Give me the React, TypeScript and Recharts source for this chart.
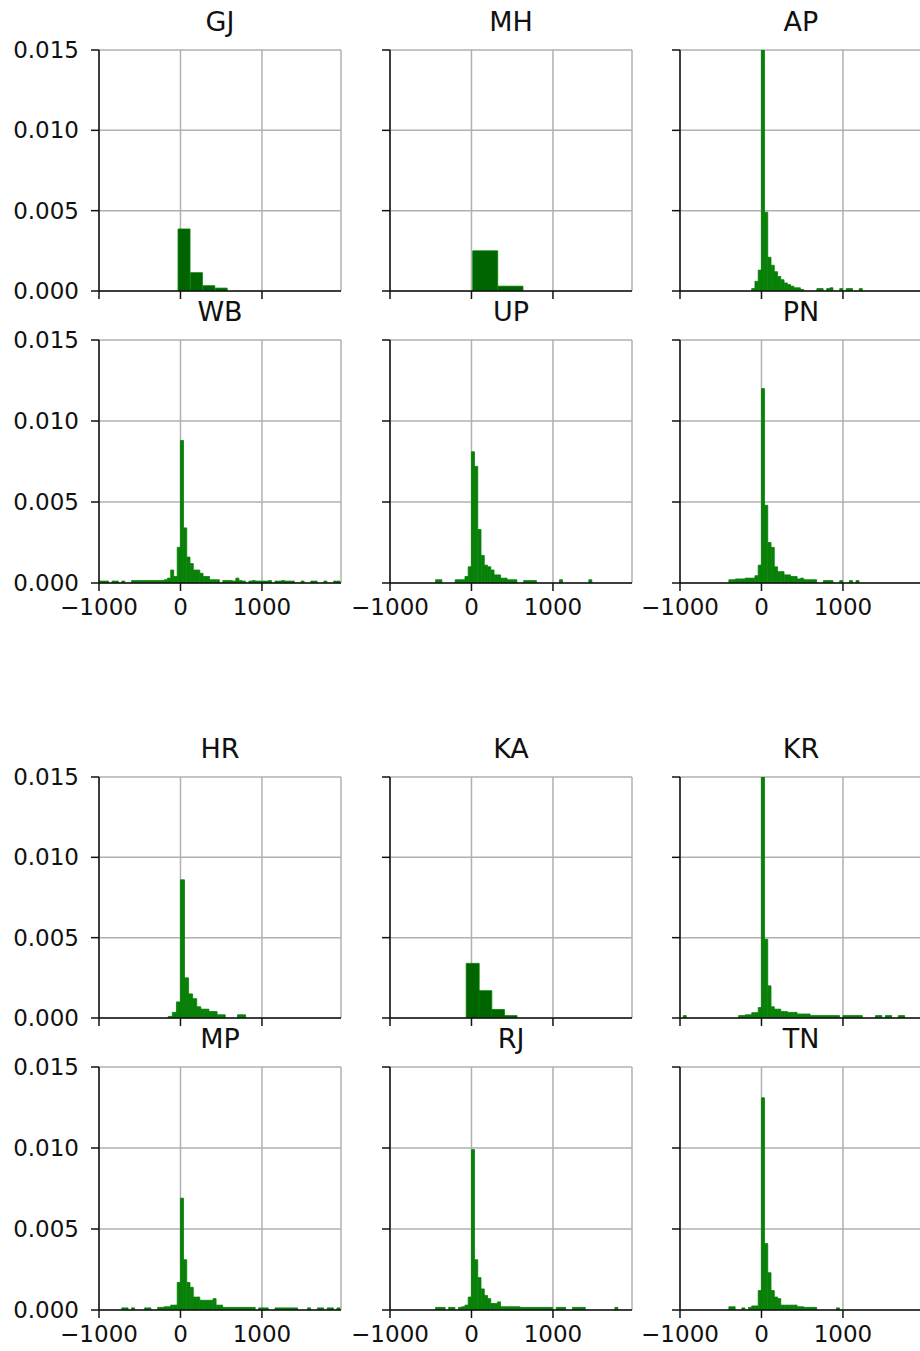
import React from 'react'
import { BarChart, Bar, XAxis, YAxis, CartesianGrid } from 'recharts'

const X_TICKS = [-1000, 0, 1000]
const Y_TICKS = [0, 0.005, 0.01, 0.015]
const X_DOMAIN = [-1000, 1970]
const Y_DOMAIN = [0, 0.015]

// GJ (wide bins)
const gjStart = -30
const gjWidth = 152
const gjDensity = [0.00386, 0.00114, 0.00033, 0.00018]

// MH (wide bins)
const mhStart = 15
const mhWidth = 310
const mhDensity = [0.0025, 0.0003]

// AP
const apStart = -120
const apWidth = 40
const apDensity = [0.00015, 0.0006, 0.0013, 0.02, 0.0049, 0.0021, 0.0016, 0.0012, 0.0009, 0.0007, 0.0005, 0.0004, 0.0003, 0.0002, 0.0002, 0.0001]
const apTailX = [680, 720, 800, 840, 960, 1040, 1080, 1200]
const apTailY = [0.00015, 0.00015, 0.00015, 0.0002, 0.00015, 0.00015, 0.00015, 0.00015]

// WB
const wbStart = -240
const wbWidth = 40
const wbDensity = [0.00015, 0.0002, 0.0003, 0.0008, 0.0004, 0.0022, 0.0088, 0.0034, 0.0016, 0.0012, 0.0008, 0.0008, 0.0006, 0.0004, 0.0004, 0.0002, 0.0002, 0.0002]
const wbTailX = [-1000, -960, -920, -840, -800, -720, -600, -560, -520, -480, -440, -400, -360, -320, -280, 520, 560, 600, 640, 680, 720, 760, 840, 880, 920, 960, 1000, 1040, 1080, 1160, 1200, 1240, 1280, 1320, 1360, 1480, 1600, 1640, 1760, 1880, 1920]
const wbTailY = [0.00012, 0.00012, 0.00012, 0.00012, 0.00012, 0.00012, 0.00015, 0.00015, 0.00015, 0.00015, 0.00015, 0.00015, 0.00015, 0.00015, 0.00015, 0.00015, 0.00015, 0.00015, 0.00012, 0.0003, 0.00015, 0.00012, 0.00012, 0.00015, 0.00012, 0.00012, 0.00012, 0.00012, 0.00015, 0.00012, 0.00012, 0.00015, 0.00012, 0.00012, 0.00012, 0.00012, 0.00012, 0.00012, 0.00012, 0.00012, 0.00012]

// UP
const upStart = -200
const upWidth = 40
const upDensity = [0.0002, 0.0002, 0.0002, 0.0004, 0.001, 0.0081, 0.0072, 0.0033, 0.0017, 0.0011, 0.001, 0.0008, 0.0005, 0.0005, 0.0003, 0.0003, 0.0002, 0.0002, 0.0002]
const upTailX = [-440, -400, 640, 680, 720, 760, 1080, 1440]
const upTailY = [0.0002, 0.0002, 0.00015, 0.00015, 0.00015, 0.00015, 0.0002, 0.0002]

// PN
const pnStart = -320
const pnWidth = 40
const pnDensity = [0.00025, 0.00025, 0.00025, 0.0003, 0.0003, 0.0003, 0.00045, 0.0011, 0.012, 0.0048, 0.0025, 0.0022, 0.001, 0.0007, 0.0007, 0.0005, 0.0005, 0.0004, 0.0004, 0.00025, 0.0003, 0.0002, 0.0002, 0.0002, 0.0002]
const pnTailX = [-400, -360, 760, 800, 840, 960, 1080, 1160]
const pnTailY = [0.0002, 0.0002, 0.00015, 0.00015, 0.00015, 0.00015, 0.00015, 0.00015]

// HR
const hrStart = -150
const hrWidth = 50
const hrDensity = [0.0001, 0.00035, 0.001, 0.0086, 0.0025, 0.0015, 0.0012, 0.0007, 0.00055, 0.00055, 0.0004, 0.0004, 0.0002, 0.0002]
const hrTailX = [700, 750]
const hrTailY = [0.0002, 0.0002]

// KA (wide bins)
const kaStart = -65
const kaWidth = 155
const kaDensity = [0.0034, 0.0017, 0.00053, 0.00015]

// KR
const krStart = -200
const krWidth = 40
const krDensity = [0.0002, 0.0002, 0.00033, 0.00033, 0.00065, 0.02, 0.0049, 0.002, 0.0007, 0.00055, 0.00055, 0.0004, 0.0004, 0.00035, 0.00035, 0.00035, 0.00025, 0.00025, 0.00025, 0.00025, 0.00015, 0.00015, 0.00015, 0.00015, 0.00015, 0.00015, 0.00015, 0.00015, 0.00015]
const krTailX = [-960, -280, -240, 1000, 1040, 1080, 1120, 1160, 1200, 1400, 1440, 1520, 1560, 1680, 1720]
const krTailY = [0.00015, 0.00015, 0.00015, 0.00015, 0.00015, 0.00015, 0.00015, 0.00015, 0.00015, 0.00015, 0.00015, 0.00015, 0.00015, 0.00015, 0.00015]

// MP
const mpStart = -280
const mpWidth = 40
const mpDensity = [0.00016, 0.00016, 0.0002, 0.0002, 0.0003, 0.0003, 0.0017, 0.0069, 0.0031, 0.0017, 0.0014, 0.0008, 0.0008, 0.0006, 0.0006, 0.0006, 0.0006, 0.0007, 0.0003, 0.0003, 0.00016, 0.00016, 0.00016, 0.00016, 0.00016, 0.00016, 0.00016, 0.00016, 0.00016, 0.00016]
const mpTailX = [-720, -680, -600, -440, -400, 960, 1000, 1040, 1160, 1200, 1240, 1280, 1320, 1360, 1400, 1560, 1680, 1720, 1800, 1840, 1920]
const mpTailY = [0.00013, 0.00013, 0.00013, 0.00013, 0.00013, 0.00013, 0.00013, 0.00013, 0.00013, 0.00013, 0.00013, 0.00013, 0.00013, 0.00013, 0.00013, 0.00013, 0.00013, 0.00013, 0.00013, 0.00013, 0.00013]

// RJ
const rjStart = -160
const rjWidth = 40
const rjDensity = [0.00016, 0.0002, 0.0003, 0.0008, 0.0099, 0.0031, 0.002, 0.0013, 0.0009, 0.0007, 0.0004, 0.0004, 0.0005, 0.0002, 0.0002, 0.0002, 0.0002, 0.0002, 0.0002, 0.00016, 0.00016, 0.00016, 0.00016, 0.00016, 0.00016, 0.00016, 0.00016, 0.00016, 0.00016]
const rjTailX = [-440, -400, -360, -280, -240, 1040, 1080, 1120, 1240, 1280, 1320, 1360, 1760]
const rjTailY = [0.00016, 0.00016, 0.00016, 0.00016, 0.00016, 0.00016, 0.00016, 0.00016, 0.00016, 0.00016, 0.00016, 0.00016, 0.00016]

// TN
const tnStart = -160
const tnWidth = 40
const tnDensity = [0.00016, 0.00025, 0.00025, 0.0012, 0.0131, 0.0041, 0.0023, 0.0012, 0.0008, 0.0007, 0.0003, 0.0003, 0.0003, 0.0003, 0.0003, 0.0002, 0.0002, 0.00016, 0.00016, 0.00016, 0.00016]
const tnTailX = [-400, -360, -240, 920]
const tnTailY = [0.0002, 0.0002, 0.00013, 0.00013]

type BinRow = { x: number; y: number }

function buildBins(start: number, width: number, density: number[], tailX: number[] = [], tailY: number[] = []): BinRow[] {
  const rows = density.map((y, i) => ({ x: start + i * width + width / 2, y }))
  tailX.forEach((x, i) => rows.push({ x: x + width / 2, y: tailY[i] }))
  return rows.sort((a, b) => a.x - b.x)
}

// layout of the plot boxes (page pixels)
const ROW_TOP = [50, 340, 777, 1067]
const ROW_H = [241, 243, 241, 243]
const COL_LEFT = [99, 390, 680]
const PLOT_W = 242
const Y_AXIS_W = 99
const TOP_PAD = 24
const X_AXIS_H = 60
const FONT = 'DejaVu Sans'

// wide-bin panels show a dark fill with a lighter edge; narrow bins read as plain green
const WIDE_FILL = '#006400'
const NARROW_FILL = '#0a800a'
const EDGE = '#008000'

const panels = [
  { name: 'GJ', row: 0, col: 0, fill: WIDE_FILL, data: buildBins(gjStart, gjWidth, gjDensity) },
  { name: 'MH', row: 0, col: 1, fill: WIDE_FILL, data: buildBins(mhStart, mhWidth, mhDensity) },
  { name: 'AP', row: 0, col: 2, fill: NARROW_FILL, data: buildBins(apStart, apWidth, apDensity, apTailX, apTailY) },
  { name: 'WB', row: 1, col: 0, fill: NARROW_FILL, data: buildBins(wbStart, wbWidth, wbDensity, wbTailX, wbTailY) },
  { name: 'UP', row: 1, col: 1, fill: NARROW_FILL, data: buildBins(upStart, upWidth, upDensity, upTailX, upTailY) },
  { name: 'PN', row: 1, col: 2, fill: NARROW_FILL, data: buildBins(pnStart, pnWidth, pnDensity, pnTailX, pnTailY) },
  { name: 'HR', row: 2, col: 0, fill: NARROW_FILL, data: buildBins(hrStart, hrWidth, hrDensity, hrTailX, hrTailY) },
  { name: 'KA', row: 2, col: 1, fill: WIDE_FILL, data: buildBins(kaStart, kaWidth, kaDensity) },
  { name: 'KR', row: 2, col: 2, fill: NARROW_FILL, data: buildBins(krStart, krWidth, krDensity, krTailX, krTailY) },
  { name: 'MP', row: 3, col: 0, fill: NARROW_FILL, data: buildBins(mpStart, mpWidth, mpDensity, mpTailX, mpTailY) },
  { name: 'RJ', row: 3, col: 1, fill: NARROW_FILL, data: buildBins(rjStart, rjWidth, rjDensity, rjTailX, rjTailY) },
  { name: 'TN', row: 3, col: 2, fill: NARROW_FILL, data: buildBins(tnStart, tnWidth, tnDensity, tnTailX, tnTailY) },
]

const fmtX = (v: number) => (v < 0 ? `\u2212${Math.abs(v)}` : `${v}`)
const fmtY = (v: number) => v.toFixed(3)
const noLabel = () => ''

const tickStyle = { fontSize: 23, fill: '#111', fontFamily: FONT }
const spine = { stroke: '#111', strokeWidth: 1.5 }

type PanelProps = { name: string; row: number; col: number; fill: string; data: BinRow[] }

function Panel({ name, row, col, fill, data }: PanelProps) {
  const left = COL_LEFT[col]
  const top = ROW_TOP[row]
  const h = ROW_H[row]
  const showX = row === 1 || row === 3
  const showY = col === 0

  return (
    <>
      <div
        style={{
          position: 'absolute',
          left,
          top: top - 42,
          width: PLOT_W,
          textAlign: 'center',
          fontSize: 27,
          lineHeight: '28px',
          fontFamily: FONT,
          color: '#111',
        }}
      >
        {name}
      </div>
      <div style={{ position: 'absolute', left: left - Y_AXIS_W, top: top - TOP_PAD }}>
        <BarChart
          width={Y_AXIS_W + PLOT_W + 4}
          height={TOP_PAD + h + X_AXIS_H}
          data={data}
          margin={{ top: TOP_PAD, right: 4, left: 0, bottom: 0 }}
          barCategoryGap={0}
          barGap={0}
        >
          <CartesianGrid stroke="#b0b0b0" strokeWidth={1.5} />
          <XAxis
            dataKey="x"
            type="number"
            domain={X_DOMAIN}
            ticks={X_TICKS}
            interval={0}
            allowDataOverflow
            height={X_AXIS_H}
            tickSize={8}
            tickMargin={8}
            tick={tickStyle}
            tickFormatter={showX ? fmtX : noLabel}
            axisLine={spine}
            tickLine={spine}
          />
          <YAxis
            type="number"
            domain={Y_DOMAIN}
            ticks={Y_TICKS}
            interval={0}
            allowDataOverflow
            width={Y_AXIS_W}
            tickSize={8}
            tickMargin={12}
            tick={tickStyle}
            tickFormatter={showY ? fmtY : noLabel}
            axisLine={spine}
            tickLine={spine}
          />
          <XAxis xAxisId="frame" orientation="top" type="number" domain={[0, 1]} height={0} tick={false} tickLine={false} axisLine={spine} />
          <YAxis yAxisId="frame" orientation="right" type="number" domain={[0, 1]} width={0} tick={false} tickLine={false} axisLine={spine} />
          <Bar dataKey="y" fill={fill} stroke={EDGE} strokeWidth={0.8} isAnimationActive={false} />
        </BarChart>
      </div>
    </>
  )
}

export default function App() {
  return (
    <div
      style={{
        position: 'absolute',
        left: 0,
        top: 0,
        width: 920,
        height: 1351,
        overflow: 'hidden',
        background: '#fff',
        fontFamily: FONT,
      }}
    >
      {panels.map((p) => (
        <Panel key={p.name} {...p} />
      ))}
    </div>
  )
}
